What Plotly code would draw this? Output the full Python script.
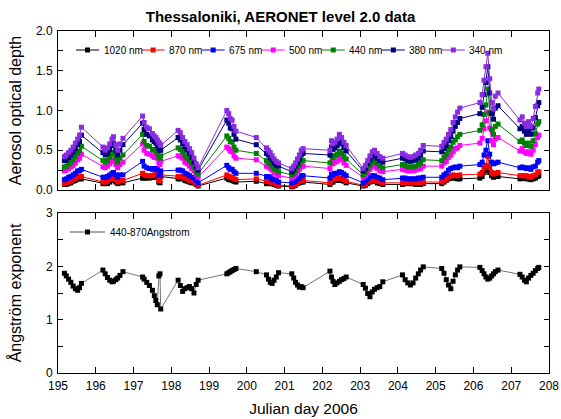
import plotly.graph_objects as go

# ---------------- data ----------------
day = [195.17, 195.22, 195.28, 195.34, 195.40, 195.46, 195.52, 195.57, 195.62,
       196.19, 196.25, 196.31, 196.37, 196.43, 196.47, 196.53, 196.58, 196.64, 196.72,
       197.24, 197.28, 197.35, 197.42, 197.50, 197.55, 197.59, 197.63, 197.67, 197.70, 197.72,
       198.18, 198.24, 198.30, 198.36, 198.42, 198.48, 198.54, 198.60, 198.66, 198.71,
       199.47, 199.52, 199.56, 199.61, 199.66, 199.71,
       200.25,
       200.52, 200.57, 200.62, 200.67, 200.72, 200.78, 200.84,
       201.19, 201.24, 201.29, 201.34, 201.39, 201.44, 201.49,
       202.20, 202.24, 202.28, 202.33, 202.39, 202.45, 202.51, 202.57, 202.63,
       203.08, 203.14, 203.20, 203.26, 203.32, 203.38, 203.45, 203.52, 203.60,
       204.12, 204.19, 204.26, 204.33, 204.40, 204.47, 204.54, 204.60, 204.67,
       205.16, 205.22, 205.28, 205.34, 205.40, 205.46, 205.52, 205.58, 205.64,
       206.17, 206.23, 206.28, 206.33, 206.38, 206.43, 206.48, 206.53, 206.58, 206.65,
       207.23, 207.29, 207.35, 207.40, 207.46, 207.52, 207.58, 207.64, 207.70, 207.73]

aod_340 = [0.42, 0.44, 0.47, 0.50, 0.54, 0.59, 0.64, 0.69, 0.79,
           0.54, 0.50, 0.53, 0.58, 0.64, 0.67, 0.57, 0.50, 0.58, 0.65,
           0.93, 0.85, 0.79, 0.77, 0.71, 0.68, 0.66, 0.63, 0.60, 0.58, 0.56,
           0.75, 0.72, 0.66, 0.61, 0.57, 0.52, 0.47, 0.40, 0.33, 0.28,
           1.00, 0.96, 0.90, 0.88, 0.80, 0.74,
           0.66,
           0.53, 0.50, 0.47, 0.43, 0.39, 0.36, 0.34,
           0.27, 0.30, 0.34, 0.39, 0.44, 0.50, 0.52,
           0.50, 0.62, 0.58, 0.60, 0.64, 0.70, 0.66, 0.60, 0.56,
           0.27, 0.31, 0.37, 0.43, 0.48, 0.50, 0.46, 0.42, 0.40,
           0.46, 0.44, 0.42, 0.41, 0.42, 0.44, 0.46, 0.50, 0.56,
           0.55, 0.60, 0.64, 0.70, 0.76, 0.85, 0.92, 0.98, 1.03,
           1.10, 1.20, 1.38, 1.55, 1.72, 1.40, 1.10, 1.02, 1.18, 1.22,
           0.88, 0.92, 0.84, 0.80, 0.86, 0.80, 0.90, 1.05, 1.22, 1.27]

aod_380 = [0.37, 0.38, 0.41, 0.44, 0.48, 0.52, 0.57, 0.61, 0.69,
           0.47, 0.44, 0.46, 0.51, 0.56, 0.59, 0.50, 0.44, 0.50, 0.57,
           0.84, 0.76, 0.70, 0.68, 0.63, 0.61, 0.59, 0.56, 0.52, 0.50, 0.50,
           0.66, 0.63, 0.58, 0.54, 0.50, 0.46, 0.41, 0.35, 0.29, 0.25,
           0.88, 0.84, 0.78, 0.77, 0.70, 0.64,
           0.57,
           0.46, 0.44, 0.41, 0.38, 0.34, 0.31, 0.30,
           0.23, 0.26, 0.30, 0.34, 0.39, 0.44, 0.46,
           0.44, 0.54, 0.51, 0.53, 0.56, 0.61, 0.58, 0.53, 0.49,
           0.24, 0.27, 0.33, 0.38, 0.42, 0.44, 0.40, 0.37, 0.35,
           0.40, 0.39, 0.37, 0.36, 0.37, 0.38, 0.40, 0.44, 0.49,
           0.48, 0.52, 0.56, 0.62, 0.67, 0.74, 0.80, 0.85, 0.90,
           0.96, 1.04, 1.20, 1.35, 1.55, 1.22, 0.96, 0.89, 1.03, 1.06,
           0.77, 0.80, 0.74, 0.70, 0.75, 0.70, 0.78, 0.91, 1.06, 1.10]

aod_440 = [0.29, 0.30, 0.33, 0.35, 0.38, 0.42, 0.46, 0.49, 0.55,
           0.37, 0.35, 0.37, 0.41, 0.45, 0.47, 0.40, 0.35, 0.40, 0.44,
           0.70, 0.61, 0.56, 0.55, 0.51, 0.50, 0.49, 0.47, 0.41, 0.40, 0.43,
           0.53, 0.51, 0.48, 0.43, 0.40, 0.37, 0.33, 0.29, 0.23, 0.20,
           0.68, 0.65, 0.61, 0.60, 0.54, 0.50,
           0.46,
           0.37, 0.35, 0.33, 0.30, 0.27, 0.25, 0.23,
           0.19, 0.21, 0.24, 0.28, 0.31, 0.36, 0.37,
           0.34, 0.43, 0.41, 0.43, 0.45, 0.49, 0.46, 0.42, 0.39,
           0.19, 0.22, 0.27, 0.31, 0.35, 0.36, 0.33, 0.30, 0.28,
           0.32, 0.31, 0.29, 0.29, 0.29, 0.30, 0.32, 0.34, 0.38,
           0.37, 0.41, 0.45, 0.50, 0.54, 0.60, 0.63, 0.67, 0.70,
           0.75, 0.82, 0.95, 1.07, 1.27, 0.97, 0.76, 0.70, 0.80, 0.83,
           0.61, 0.63, 0.59, 0.56, 0.59, 0.55, 0.62, 0.71, 0.83, 0.86]

aod_500 = [0.24, 0.25, 0.27, 0.29, 0.31, 0.34, 0.38, 0.40, 0.45,
           0.29, 0.28, 0.30, 0.33, 0.36, 0.38, 0.32, 0.28, 0.32, 0.35,
           0.58, 0.50, 0.46, 0.45, 0.43, 0.41, 0.42, 0.40, 0.34, 0.32, 0.36,
           0.43, 0.42, 0.40, 0.35, 0.33, 0.30, 0.27, 0.24, 0.19, 0.16,
           0.54, 0.52, 0.49, 0.48, 0.43, 0.40,
           0.38,
           0.30, 0.29, 0.27, 0.25, 0.22, 0.20, 0.18,
           0.15, 0.17, 0.19, 0.23, 0.26, 0.29, 0.30,
           0.27, 0.35, 0.33, 0.35, 0.36, 0.40, 0.38, 0.34, 0.31,
           0.16, 0.18, 0.22, 0.26, 0.29, 0.30, 0.27, 0.24, 0.23,
           0.26, 0.25, 0.24, 0.24, 0.24, 0.25, 0.26, 0.27, 0.30,
           0.30, 0.34, 0.36, 0.41, 0.44, 0.48, 0.52, 0.53, 0.56,
           0.59, 0.65, 0.77, 0.87, 0.98, 0.78, 0.62, 0.57, 0.64, 0.66,
           0.49, 0.52, 0.48, 0.46, 0.48, 0.45, 0.50, 0.57, 0.66, 0.69]

aod_675 = [0.13, 0.14, 0.16, 0.17, 0.19, 0.21, 0.24, 0.24, 0.26,
           0.16, 0.16, 0.17, 0.19, 0.21, 0.22, 0.19, 0.16, 0.19, 0.19,
           0.36, 0.30, 0.28, 0.27, 0.26, 0.27, 0.27, 0.26, 0.19, 0.19, 0.24,
           0.25, 0.25, 0.24, 0.21, 0.20, 0.18, 0.16, 0.15, 0.12, 0.09,
           0.31, 0.28, 0.26, 0.26, 0.23, 0.21,
           0.21,
           0.17, 0.17, 0.16, 0.14, 0.13, 0.12, 0.10,
           0.09, 0.10, 0.11, 0.14, 0.15, 0.18, 0.18,
           0.15, 0.20, 0.19, 0.21, 0.21, 0.23, 0.22, 0.20, 0.18,
           0.09, 0.11, 0.14, 0.17, 0.18, 0.18, 0.16, 0.15, 0.13,
           0.15, 0.15, 0.14, 0.14, 0.14, 0.14, 0.15, 0.15, 0.16,
           0.16, 0.19, 0.21, 0.25, 0.27, 0.28, 0.29, 0.28, 0.30,
           0.32, 0.35, 0.44, 0.50, 0.62, 0.45, 0.35, 0.33, 0.34, 0.35,
           0.28, 0.29, 0.28, 0.27, 0.28, 0.26, 0.29, 0.30, 0.35, 0.37]

aod_870 = [0.08, 0.09, 0.10, 0.11, 0.13, 0.14, 0.17, 0.17, 0.17,
           0.10, 0.10, 0.11, 0.13, 0.14, 0.15, 0.13, 0.10, 0.12, 0.12,
           0.21, 0.19, 0.18, 0.18, 0.18, 0.19, 0.20, 0.20, 0.12, 0.12, 0.19,
           0.17, 0.17, 0.17, 0.15, 0.14, 0.12, 0.11, 0.10, 0.08, 0.06,
           0.19, 0.17, 0.16, 0.16, 0.14, 0.13,
           0.14,
           0.11, 0.11, 0.10, 0.09, 0.09, 0.07, 0.06,
           0.05, 0.06, 0.07, 0.09, 0.11, 0.12, 0.12,
           0.09, 0.12, 0.13, 0.14, 0.14, 0.15, 0.15, 0.13, 0.11,
           0.06, 0.07, 0.10, 0.12, 0.12, 0.13, 0.11, 0.10, 0.09,
           0.09, 0.10, 0.09, 0.10, 0.09, 0.09, 0.09, 0.09, 0.10,
           0.10, 0.12, 0.14, 0.17, 0.18, 0.19, 0.18, 0.18, 0.19,
           0.20, 0.22, 0.28, 0.31, 0.42, 0.28, 0.22, 0.20, 0.21, 0.22,
           0.18, 0.18, 0.18, 0.18, 0.17, 0.16, 0.18, 0.19, 0.22, 0.23]

aod_1020 = [0.07, 0.07, 0.08, 0.09, 0.11, 0.12, 0.14, 0.14, 0.14,
            0.08, 0.08, 0.08, 0.10, 0.12, 0.12, 0.10, 0.08, 0.09, 0.09,
            0.15, 0.15, 0.15, 0.15, 0.16, 0.16, 0.18, 0.17, 0.10, 0.09, 0.17,
            0.14, 0.14, 0.15, 0.12, 0.11, 0.10, 0.09, 0.09, 0.07, 0.05,
            0.15, 0.13, 0.13, 0.12, 0.11, 0.10,
            0.11,
            0.08, 0.09, 0.08, 0.08, 0.07, 0.06, 0.05,
            0.04, 0.05, 0.06, 0.08, 0.09, 0.10, 0.10,
            0.07, 0.10, 0.10, 0.12, 0.12, 0.13, 0.12, 0.11, 0.09,
            0.05, 0.06, 0.08, 0.10, 0.11, 0.11, 0.09, 0.08, 0.07,
            0.07, 0.08, 0.08, 0.08, 0.08, 0.07, 0.07, 0.07, 0.08,
            0.08, 0.10, 0.12, 0.14, 0.15, 0.15, 0.15, 0.14, 0.14,
            0.15, 0.17, 0.22, 0.25, 0.29, 0.22, 0.18, 0.16, 0.17, 0.17,
            0.14, 0.15, 0.15, 0.14, 0.14, 0.13, 0.14, 0.15, 0.17, 0.18]

angstrom_440_870 = [1.87, 1.82, 1.76, 1.70, 1.63, 1.58, 1.55, 1.60, 1.68,
                    1.93, 1.86, 1.79, 1.74, 1.71, 1.72, 1.75, 1.78, 1.83, 1.90,
                    1.80, 1.76, 1.70, 1.64, 1.55, 1.45, 1.36, 1.28, 1.82, 1.86, 1.20,
                    1.74, 1.64, 1.53, 1.58, 1.60, 1.62, 1.58, 1.50, 1.66, 1.74,
                    1.86, 1.88, 1.90, 1.92, 1.94, 1.96,
                    1.90,
                    1.84, 1.76, 1.70, 1.68, 1.74, 1.80, 1.88,
                    1.86, 1.78, 1.70, 1.65, 1.61, 1.62, 1.60,
                    1.91, 1.80, 1.72, 1.66, 1.69, 1.72, 1.75, 1.77, 1.80,
                    1.66, 1.59, 1.49, 1.43, 1.52, 1.57, 1.60, 1.62, 1.71,
                    1.84, 1.75, 1.69, 1.65, 1.69, 1.78, 1.86, 1.93, 1.99,
                    1.96, 1.87, 1.75, 1.65, 1.58, 1.72, 1.84, 1.93, 1.99,
                    1.98, 1.92, 1.86, 1.80, 1.76, 1.78, 1.82, 1.86, 1.90, 1.93,
                    1.85, 1.80, 1.74, 1.71, 1.78, 1.83, 1.87, 1.92, 1.96, 1.98]

series_names = ["1020 nm", "870 nm", "675 nm", "500 nm", "440 nm", "380 nm", "340 nm"]
series_values = [aod_1020, aod_870, aod_675, aod_500, aod_440, aod_380, aod_340]
series_colors = ["#000000", "#ff0000", "#0000ff", "#ff00ff", "#008000", "#000080", "#8a2be2"]
angstrom_name = "440-870Angstrom"

day_ticks = list(range(195, 209))
aod_ticks = [0, 0.25, 0.5, 0.75, 1.0, 1.25, 1.5, 1.75, 2.0]
aod_ticktext = ["0.0", "", "0.5", "", "1.0", "", "1.5", "", "2.0"]
ang_ticks = [0, 0.5, 1, 1.5, 2, 2.5, 3]
ang_ticktext = ["0", "", "1", "", "2", "", "3"]

# ---------------- layout geometry (pixels) ----------------
W, H = 561, 419
ML, MR, MT, MB = 58, 12, 31, 46
PW = W - ML - MR
PH = H - MT - MB
FONT = "Arial, Liberation Sans, Helvetica, sans-serif"


def px2x(px):
    return (px - ML) / PW


def py2y(py):
    return (H - MB - py) / PH


top_domain = [py2y(190), 1.0]
bot_domain = [0.0, py2y(213)]

fig = go.Figure()

for name, vals, col in zip(series_names, series_values, series_colors):
    fig.add_trace(go.Scatter(
        x=day, y=vals, name=name, mode="lines+markers",
        line=dict(color=col, width=1),
        marker=dict(symbol="square", size=5, color=col),
        xaxis="x", yaxis="y", showlegend=False))

fig.add_trace(go.Scatter(
    x=day, y=angstrom_440_870, name=angstrom_name, mode="lines+markers",
    line=dict(color="#505050", width=0.8),
    marker=dict(symbol="square", size=5, color="#000000"),
    xaxis="x2", yaxis="y2", showlegend=False))

axis_common = dict(showline=True, linecolor="black", linewidth=1, mirror="ticks",
                   ticks="inside", tickcolor="black", tickwidth=1,
                   showgrid=False, zeroline=False, automargin=False,
                   tickfont=dict(family=FONT, size=12, color="black"))

fig.update_layout(
    width=W, height=H,
    margin=dict(l=ML, r=MR, t=MT, b=MB, autoexpand=False),
    paper_bgcolor="white", plot_bgcolor="white",
    font=dict(family=FONT, color="black"),
    title=dict(text="<b>Thessaloniki, AERONET level 2.0 data</b>",
               x=0.5, xref="container", xanchor="center",
               y=1 - 17 / H, yref="container", yanchor="middle",
               font=dict(family=FONT, size=15, color="black")),
    xaxis=dict(domain=[0, 1], range=[195, 208], anchor="y",
               tickvals=day_ticks, showticklabels=False, ticklen=6, **axis_common),
    yaxis=dict(domain=top_domain, range=[0, 2], anchor="x",
               tickvals=aod_ticks, ticktext=aod_ticktext, ticklen=5,
               ticklabelstandoff=2,
               title=dict(text="Aerosol optical depth", standoff=10,
                          font=dict(family=FONT, size=16, color="black")),
               **axis_common),
    xaxis2=dict(domain=[0, 1], range=[195, 208], anchor="y2",
                tickvals=day_ticks, ticktext=[str(d) for d in day_ticks], ticklen=6,
                ticklabelstandoff=2,
                title=dict(text="Julian day 2006", standoff=10,
                           font=dict(family=FONT, size=15.5, color="black")),
                **axis_common),
    yaxis2=dict(domain=bot_domain, range=[0, 3], anchor="x2",
                tickvals=ang_ticks, ticktext=ang_ticktext, ticklen=5,
                ticklabelstandoff=2,
                title=dict(text="Ångström exponent", standoff=20,
                           font=dict(family=FONT, size=16, color="black")),
                **axis_common),
)

# ---------------- hand-placed legends (key line + square + label) ----------------
CHAR_W = {"0": .556, "1": .556, "2": .556, "3": .556, "4": .556, "5": .556,
          "6": .556, "7": .556, "8": .556, "9": .556, " ": .278, "n": .556,
          "m": .833, "-": .333, "A": .667, "g": .556, "s": .5, "t": .278,
          "r": .333, "o": .556}
LEG_FONT = 10


def text_w(s):
    return sum(CHAR_W.get(c, .556) for c in s) * LEG_FONT


shapes = []
annotations = []


def legend_entry(x0, y, line_len, col, mcol, label, lcol=None):
    lcol = lcol or col
    shapes.append(dict(type="line", xref="paper", yref="paper",
                       x0=px2x(x0), x1=px2x(x0 + line_len), y0=py2y(y), y1=py2y(y),
                       line=dict(color=lcol, width=1)))
    cx = x0 + line_len / 2
    shapes.append(dict(type="rect", xref="paper", yref="paper",
                       x0=px2x(cx - 2.5), x1=px2x(cx + 2.5),
                       y0=py2y(y + 2.5), y1=py2y(y - 2.5),
                       fillcolor=mcol, line=dict(width=0)))
    annotations.append(dict(text=label, xref="paper", yref="paper",
                            x=px2x(x0 + line_len + 2.5), y=py2y(y),
                            xanchor="left", yanchor="middle", showarrow=False,
                            font=dict(family=FONT, size=LEG_FONT, color="black")))
    return x0 + line_len + 2.5 + text_w(label) + 1.2


xpos = 76
for name, col in zip(series_names, series_colors):
    xpos = legend_entry(xpos, 50, 23, col, col, name)

legend_entry(70, 232, 35, "#505050", "#000000", angstrom_name)

fig.update_layout(shapes=shapes, annotations=annotations)

# the page's default 8px body margin would shift the figure; remove it
fig.write_html("out.html", config={"displayModeBar": False},
               post_script="document.body.style.margin='0px';")
